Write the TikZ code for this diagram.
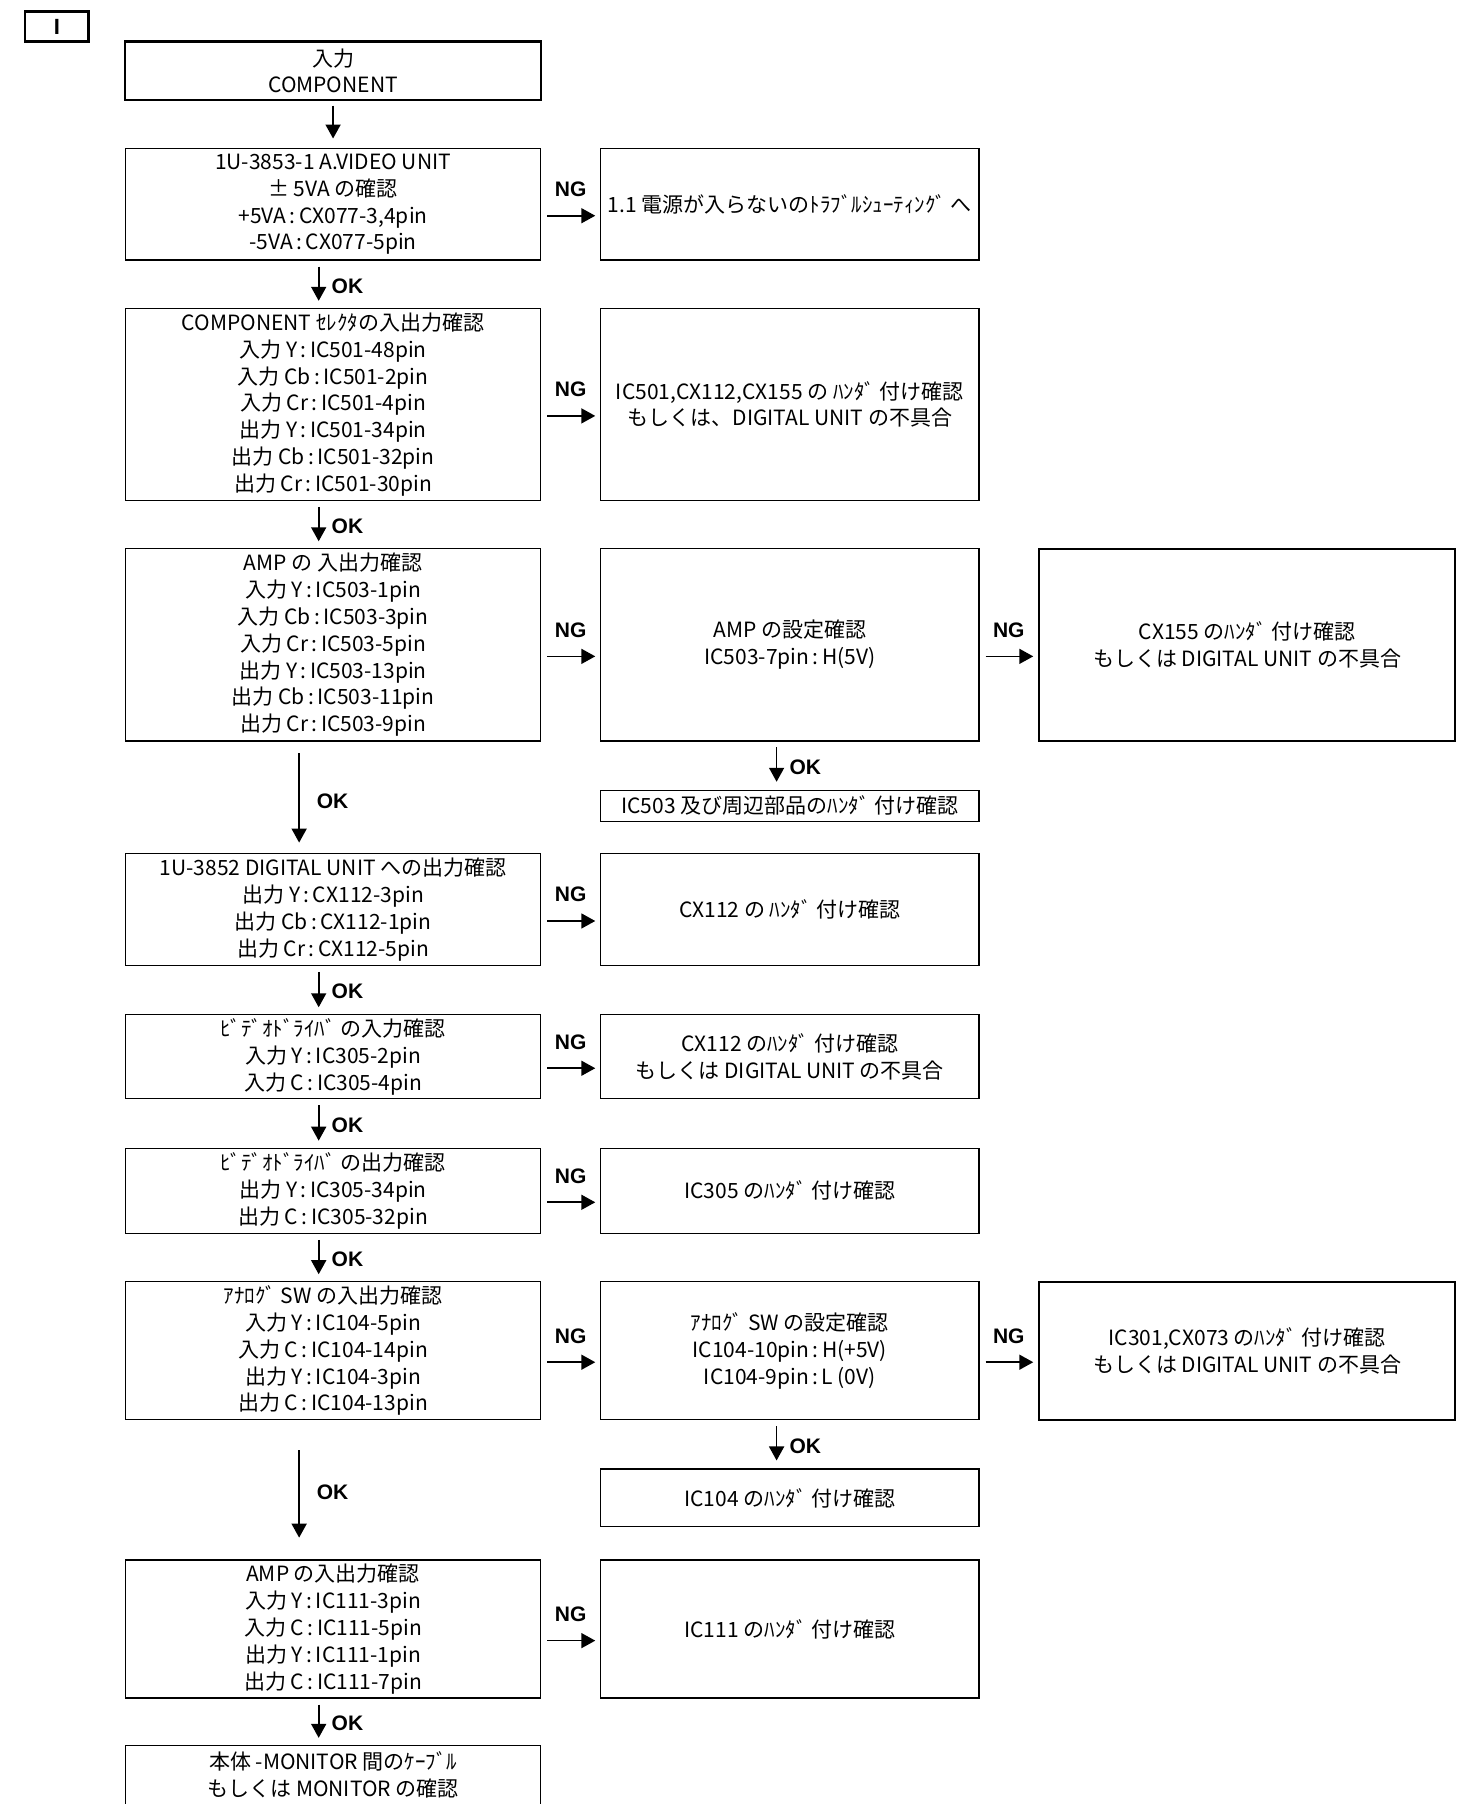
\documentclass[tikz,border=0pt]{standalone}
\usepackage{fontspec}
\usetikzlibrary{arrows.meta}
\newfontfamily\jp{Noto Sans CJK JP}
\newfontfamily\lsans{Liberation Sans}
\begin{document}
\begin{tikzpicture}[x=0.5754pt,y=-0.5754pt,
  box/.style={draw, line width=0.7pt, inner sep=0pt, align=center,
    font=\jp\fontsize{10.5pt}{13.4pt}\selectfont},
  thickbox/.style={box, line width=1.05pt},
  arr/.style={line width=0.85pt, -{Triangle[length=7pt,width=7.5pt]}},
  lbl/.style={font=\lsans\bfseries\fontsize{10.5pt}{12pt}\selectfont, inner sep=0pt},
  varr/.style={arr, shorten <=2.9pt, shorten >=3.4pt},
  harr/.style={arr, shorten <=2.9pt, shorten >=2.3pt}]
\fill[white] (0,0) rectangle (1273,1568);
\useasboundingbox (0,0) rectangle (1273,1568);

\coordinate (xL) at (277,0);
\coordinate (xLL) at (260,0);
\coordinate (xM) at (289.5,0);
\coordinate (xR) at (675,0);

% title box
\node[thickbox, font=\lsans\bfseries\fontsize{11pt}{13pt}\selectfont, minimum width=31.6pt, minimum height=15pt] (tag) at (49.5,23) {I};

% left column
\node[thickbox, minimum width=207.7pt, minimum height=29.3pt] (b1) at (289.5,61.5) {入力\\COMPONENT};
\node[box, minimum width=207.7pt, minimum height=55.8pt] (b2) at (289.5,177.5) {1U-3853-1 A.VIDEO UNIT\\± 5VA の確認\\+5VA\,:\,CX077-3,4pin\\-5VA\,:\,CX077-5pin};
\node[box, minimum width=207.7pt, minimum height=96.1pt] (b3) at (289.5,351.5) {COMPONENT ｾﾚｸﾀの入出力確認\\入力 Y\,:\,IC501-48pin\\入力 Cb\,:\,IC501-2pin\\入力 Cr\,:\,IC501-4pin\\出力 Y\,:\,IC501-34pin\\出力 Cb\,:\,IC501-32pin\\出力 Cr\,:\,IC501-30pin};
\node[box, minimum width=207.7pt, minimum height=96.1pt] (b4) at (289.5,560.5) {AMP の 入出力確認\\入力 Y\,:\,IC503-1pin\\入力 Cb\,:\,IC503-3pin\\入力 Cr\,:\,IC503-5pin\\出力 Y\,:\,IC503-13pin\\出力 Cb\,:\,IC503-11pin\\出力 Cr\,:\,IC503-9pin};
\node[box, minimum width=207.7pt, minimum height=55.8pt] (b5) at (289.5,790.5) {1U-3852 DIGITAL UNIT への出力確認\\出力 Y\,:\,CX112-3pin\\出力 Cb\,:\,CX112-1pin\\出力 Cr\,:\,CX112-5pin};
\node[box, minimum width=207.7pt, minimum height=42pt] (b6) at (289.5,918.5) {ﾋﾞﾃﾞｵﾄﾞﾗｲﾊﾞ の入力確認\\入力 Y\,:\,IC305-2pin\\入力 C\,:\,IC305-4pin};
\node[box, minimum width=207.7pt, minimum height=42.6pt] (b7) at (289.5,1035) {ﾋﾞﾃﾞｵﾄﾞﾗｲﾊﾞ の出力確認\\出力 Y\,:\,IC305-34pin\\出力 C\,:\,IC305-32pin};
\node[box, minimum width=207.7pt, minimum height=69pt] (b8) at (289.5,1174) {ｱﾅﾛｸﾞ SW の入出力確認\\入力 Y\,:\,IC104-5pin\\入力 C\,:\,IC104-14pin\\出力 Y\,:\,IC104-3pin\\出力 C\,:\,IC104-13pin};
\node[box, minimum width=207.7pt, minimum height=69pt] (b9) at (289.5,1416) {AMP の入出力確認\\入力 Y\,:\,IC111-3pin\\入力 C\,:\,IC111-5pin\\出力 Y\,:\,IC111-1pin\\出力 C\,:\,IC111-7pin};
\node[box, minimum width=207.7pt, minimum height=29.9pt] (b10) at (289.5,1543) {本体 -MONITOR 間のｹｰﾌﾞﾙ\\もしくは MONITOR の確認};

% right column
\node[box, minimum width=189.3pt, minimum height=55.8pt] (r2) at (686.5,177.5) {1.1 電源が入らないのﾄﾗﾌﾞﾙｼｭｰﾃｨﾝｸﾞ へ};
\node[box, minimum width=189.3pt, minimum height=96.1pt] (r3) at (686.5,351.5) {IC501,CX112,CX155 の ﾊﾝﾀﾞ 付け確認\\もしくは、DIGITAL UNIT の不具合};
\node[box, minimum width=189.3pt, minimum height=96.1pt] (r4) at (686.5,560.5) {AMP の設定確認\\IC503-7pin\,:\,H(5V)};
\node[box, minimum width=189.3pt, minimum height=15.5pt] (r4c) at (686.5,700.5) {IC503 及び周辺部品のﾊﾝﾀﾞ 付け確認};
\node[box, minimum width=189.3pt, minimum height=55.8pt] (r5) at (686.5,790.5) {CX112 の ﾊﾝﾀﾞ 付け確認};
\node[box, minimum width=189.3pt, minimum height=42pt] (r6) at (686.5,918.5) {CX112 のﾊﾝﾀﾞ 付け確認\\もしくは DIGITAL UNIT の不具合};
\node[box, minimum width=189.3pt, minimum height=42.6pt] (r7) at (686.5,1035) {IC305 のﾊﾝﾀﾞ 付け確認};
\node[box, minimum width=189.3pt, minimum height=69pt] (r8) at (686.5,1174) {ｱﾅﾛｸﾞ SW の設定確認\\IC104-10pin\,:\,H(+5V)\\IC104-9pin\,:\,L (0V)};
\node[box, minimum width=189.3pt, minimum height=28.8pt] (r8c) at (686.5,1302) {IC104 のﾊﾝﾀﾞ 付け確認};
\node[box, minimum width=189.3pt, minimum height=69pt] (r9) at (686.5,1416) {IC111 のﾊﾝﾀﾞ 付け確認};

% far right
\node[thickbox, minimum width=208.3pt, minimum height=96.1pt] (f4) at (1084,560.5) {CX155 のﾊﾝﾀﾞ 付け確認\\もしくは DIGITAL UNIT の不具合};
\node[thickbox, minimum width=208.3pt, minimum height=69pt] (f8) at (1084,1174) {IC301,CX073 のﾊﾝﾀﾞ 付け確認\\もしくは DIGITAL UNIT の不具合};

% vertical arrows
\draw[arr, shorten <=2.3pt, shorten >=4.6pt] (b1.south -| xM) -- (b2.north -| xM);
\foreach \a/\b in {b2/b3,b3/b4,b5/b6,b6/b7,b7/b8,b9/b10}{
  \draw[varr] (\a.south -| xL) -- node[lbl, xshift=14.4pt, yshift=-0.8pt]{OK} (\b.north -| xL);
}
\draw[arr, shorten <=5.75pt, shorten >=5.2pt] (b4.south -| xLL) -- node[lbl, xshift=16.7pt, yshift=-2pt]{OK} (b5.north -| xLL);
\draw[arr, shorten <=15pt, shorten >=10.9pt] (b8.south -| xLL) -- node[lbl, xshift=16.7pt, yshift=-1pt]{OK} (b9.north -| xLL);
\draw[varr, shorten >=4pt] (r4.south -| xR) -- node[lbl, xshift=14.4pt, yshift=-0.8pt]{OK} (r4c.north -| xR);
\draw[varr, shorten >=4pt] (r8.south -| xR) -- node[lbl, xshift=14.4pt, yshift=-0.8pt]{OK} (r8c.north -| xR);

% horizontal arrows
\foreach \a/\b in {b2/r2,b3/r3,b4/r4,b5/r5,b6/r6,b7/r7,b8/r8,b9/r9,r4/f4,r8/f8}{
  \draw[harr] ([yshift=-5.75pt]\a.east) -- node[lbl, yshift=13.2pt]{NG} ([yshift=-5.75pt]\b.west);
}
\end{tikzpicture}
\end{document}
